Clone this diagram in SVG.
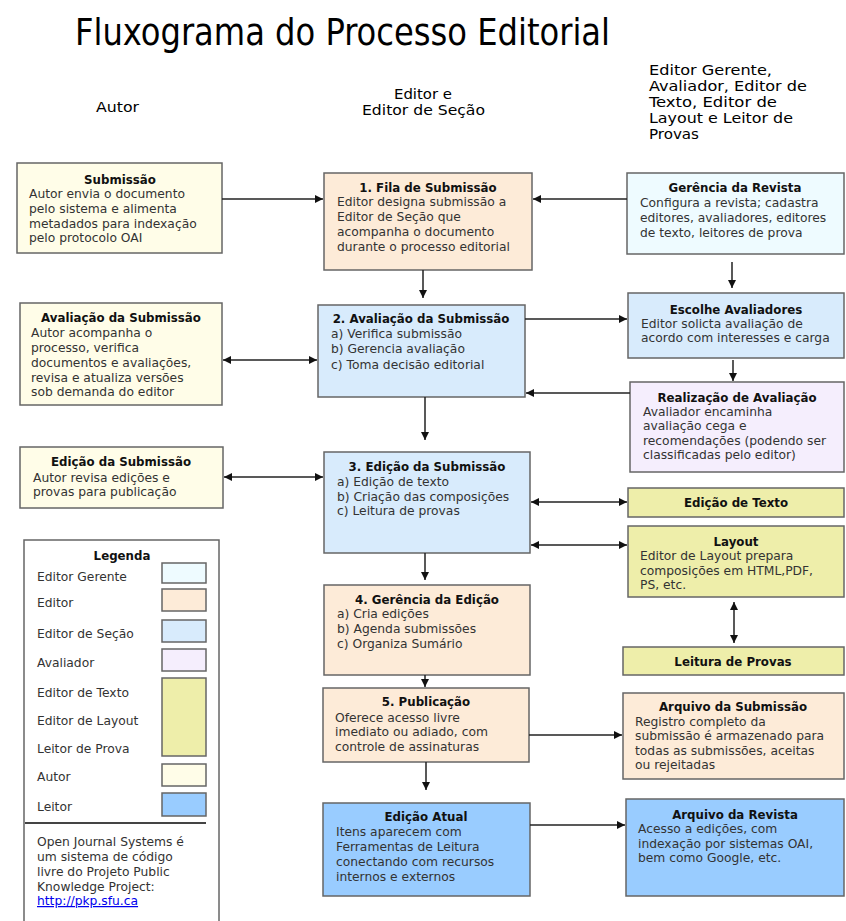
<svg xmlns="http://www.w3.org/2000/svg" width="846" height="921" viewBox="0 0 846 921">
<defs>
<style>
.box{stroke:#666;stroke-width:1.5}
.au{fill:#fffde8}
.ed{fill:#fdebd8}
.se{fill:#d8ebfc}
.mg{fill:#eefbff}
.av{fill:#f5eefd}
.ce{fill:#eeeeaa}
.le{fill:#99ccff}
.wh{fill:#ffffff}
.t{font-family:"DejaVu Sans","Liberation Sans",sans-serif;font-size:12.3px;fill:#333}
.b{font-family:"DejaVu Sans","Liberation Sans",sans-serif;font-size:11.8px;font-weight:bold;fill:#111;text-anchor:middle}
.h{font-family:"DejaVu Sans Condensed","Liberation Sans",sans-serif;fill:#000}
.lk{fill:#0000ee;text-decoration:underline}
.c line{stroke:#222;stroke-width:1.5;fill:none}
.a1{marker-end:url(#ah)}
.a2{marker-end:url(#ah);marker-start:url(#ah)}
</style>
<marker id="ah" viewBox="0 0 10 10" refX="10" refY="5" markerWidth="9" markerHeight="8" markerUnits="userSpaceOnUse" orient="auto-start-reverse">
<path d="M0,0 L10,5 L0,10 z" fill="#111"/>
</marker>
</defs>
<rect width="846" height="921" fill="#fff"/>

<g id="headers">
<text class="h" x="75" y="45" font-size="38" textLength="535" lengthAdjust="spacingAndGlyphs">Fluxograma do Processo Editorial</text>
<text class="h" x="96" y="112" font-size="14" textLength="43" lengthAdjust="spacingAndGlyphs">Autor</text>
<text class="h" x="394" y="99" font-size="13.5" textLength="58" lengthAdjust="spacingAndGlyphs">Editor e</text>
<text class="h" x="362" y="115" font-size="13.5" textLength="123" lengthAdjust="spacingAndGlyphs">Editor de Seção</text>
<text class="h" x="649" y="75" font-size="13.5" textLength="123" lengthAdjust="spacingAndGlyphs">Editor Gerente,</text>
<text class="h" x="649" y="91" font-size="13.5" textLength="158" lengthAdjust="spacingAndGlyphs">Avaliador, Editor de</text>
<text class="h" x="649" y="107" font-size="13.5" textLength="128" lengthAdjust="spacingAndGlyphs">Texto, Editor de</text>
<text class="h" x="649" y="123" font-size="13.5" textLength="144" lengthAdjust="spacingAndGlyphs">Layout e Leitor de</text>
<text class="h" x="649" y="139" font-size="13.5" textLength="50" lengthAdjust="spacingAndGlyphs">Provas</text>
</g>

<g id="submissao">
<rect class="box au" x="17" y="163" width="205" height="90"/>
<text class="b" x="120" y="184">Submissão</text>
<text class="t" x="29" y="198">Autor envia o documento</text>
<text class="t" x="29" y="213">pelo sistema e alimenta</text>
<text class="t" x="29" y="228">metadados para indexação</text>
<text class="t" x="29" y="242">pelo protocolo OAI</text>
</g>

<g id="avaliacao-autor">
<rect class="box au" x="20" y="303" width="202" height="102"/>
<text class="b" x="121" y="322">Avaliação da Submissão</text>
<text class="t" x="31" y="337">Autor acompanha o</text>
<text class="t" x="31" y="352">processo, verifica</text>
<text class="t" x="31" y="367">documentos e avaliações,</text>
<text class="t" x="31" y="382">revisa e atualiza versões</text>
<text class="t" x="31" y="396">sob demanda do editor</text>
</g>

<g id="edicao-autor">
<rect class="box au" x="20" y="447" width="203" height="61"/>
<text class="b" x="121" y="466">Edição da Submissão</text>
<text class="t" x="33" y="482">Autor revisa edições e</text>
<text class="t" x="33" y="496">provas para publicação</text>
</g>

<g id="legenda">
<rect class="box wh" x="24" y="540" width="195" height="390"/>
<text class="b" x="122" y="560">Legenda</text>
<text class="t" x="37" y="581">Editor Gerente</text>
<rect class="box mg" x="162" y="563" width="44" height="20"/>
<text class="t" x="37" y="607">Editor</text>
<rect class="box ed" x="162" y="589" width="44" height="22"/>
<text class="t" x="37" y="638">Editor de Seção</text>
<rect class="box se" x="162" y="620" width="44" height="22"/>
<text class="t" x="37" y="667">Avaliador</text>
<rect class="box av" x="162" y="649" width="44" height="22"/>
<text class="t" x="37" y="697">Editor de Texto</text>
<text class="t" x="37" y="725">Editor de Layout</text>
<text class="t" x="37" y="753">Leitor de Prova</text>
<rect class="box ce" x="162" y="678" width="44" height="78"/>
<text class="t" x="37" y="781">Autor</text>
<rect class="box au" x="162" y="764" width="44" height="22"/>
<text class="t" x="37" y="811">Leitor</text>
<rect class="box le" x="162" y="793" width="44" height="23"/>
<line x1="25" y1="823" x2="206" y2="823" stroke="#444" stroke-width="2"/>
<text class="t" x="37" y="846">Open Journal Systems é</text>
<text class="t" x="37" y="861">um sistema de código</text>
<text class="t" x="37" y="876">livre do Projeto Public</text>
<text class="t" x="37" y="891">Knowledge Project:</text>
<text class="t lk" x="37" y="905">http://pkp.sfu.ca</text>
</g>

<g id="fila">
<rect class="box ed" x="324" y="173" width="208" height="97"/>
<text class="b" x="428" y="192">1. Fila de Submissão</text>
<text class="t" x="337" y="206">Editor designa submissão a</text>
<text class="t" x="337" y="221">Editor de Seção que</text>
<text class="t" x="337" y="236">acompanha o documento</text>
<text class="t" x="337" y="251">durante o processo editorial</text>
</g>

<g id="avaliacao">
<rect class="box se" x="318" y="305" width="207" height="92"/>
<text class="b" x="421" y="323">2. Avaliação da Submissão</text>
<text class="t" x="331" y="338">a) Verifica submissão</text>
<text class="t" x="331" y="353">b) Gerencia avaliação</text>
<text class="t" x="331" y="369">c) Toma decisão editorial</text>
</g>

<g id="edicao">
<rect class="box se" x="324" y="452" width="206" height="101"/>
<text class="b" x="427" y="471">3. Edição da Submissão</text>
<text class="t" x="337" y="486">a) Edição de texto</text>
<text class="t" x="337" y="501">b) Criação das composições</text>
<text class="t" x="337" y="515">c) Leitura de provas</text>
</g>

<g id="gerencia-edicao">
<rect class="box ed" x="324" y="585" width="206" height="90"/>
<text class="b" x="427" y="604">4. Gerência da Edição</text>
<text class="t" x="337" y="618">a) Cria edições</text>
<text class="t" x="337" y="633">b) Agenda submissões</text>
<text class="t" x="337" y="648">c) Organiza Sumário</text>
</g>

<g id="publicacao">
<rect class="box ed" x="323" y="688" width="206" height="74"/>
<text class="b" x="426" y="706">5. Publicação</text>
<text class="t" x="335" y="722">Oferece acesso livre</text>
<text class="t" x="335" y="736">imediato ou adiado, com</text>
<text class="t" x="335" y="751">controle de assinaturas</text>
</g>

<g id="edicao-atual">
<rect class="box le" x="323" y="803" width="207" height="93"/>
<text class="b" x="426" y="821">Edição Atual</text>
<text class="t" x="336" y="836">Itens aparecem com</text>
<text class="t" x="336" y="851">Ferramentas de Leitura</text>
<text class="t" x="336" y="866">conectando com recursos</text>
<text class="t" x="336" y="881">internos e externos</text>
</g>

<g id="gerencia-revista">
<rect class="box mg" x="627" y="173" width="217" height="81"/>
<text class="b" x="735" y="192">Gerência da Revista</text>
<text class="t" x="640" y="207">Configura a revista; cadastra</text>
<text class="t" x="640" y="222">editores, avaliadores, editores</text>
<text class="t" x="640" y="237">de texto, leitores de prova</text>
</g>

<g id="escolhe">
<rect class="box se" x="628" y="293" width="216" height="65"/>
<text class="b" x="736" y="314">Escolhe Avaliadores</text>
<text class="t" x="641" y="328">Editor solicta avaliação de</text>
<text class="t" x="641" y="342">acordo com interesses e carga</text>
</g>

<g id="realizacao">
<rect class="box av" x="630" y="382" width="214" height="90"/>
<text class="b" x="737" y="402">Realização de Avaliação</text>
<text class="t" x="643" y="416">Avaliador encaminha</text>
<text class="t" x="643" y="430">avaliação cega e</text>
<text class="t" x="643" y="445">recomendações (podendo ser</text>
<text class="t" x="643" y="459">classificadas pelo editor)</text>
</g>

<g id="edicao-texto">
<rect class="box ce" x="628" y="488" width="216" height="29"/>
<text class="b" x="736" y="507">Edição de Texto</text>
</g>

<g id="layout">
<rect class="box ce" x="628" y="526" width="216" height="71"/>
<text class="b" x="736" y="546">Layout</text>
<text class="t" x="640" y="560">Editor de Layout prepara</text>
<text class="t" x="640" y="575">composições em HTML,PDF,</text>
<text class="t" x="640" y="589">PS, etc.</text>
</g>

<g id="leitura">
<rect class="box ce" x="623" y="647" width="221" height="28"/>
<text class="b" x="733" y="666">Leitura de Provas</text>
</g>

<g id="arquivo-submissao">
<rect class="box ed" x="623" y="693" width="221" height="86"/>
<text class="b" x="733" y="711">Arquivo da Submissão</text>
<text class="t" x="635" y="726">Registro completo da</text>
<text class="t" x="635" y="740">submissão é armazenado para</text>
<text class="t" x="635" y="755">todas as submissões, aceitas</text>
<text class="t" x="635" y="769">ou rejeitadas</text>
</g>

<g id="arquivo-revista">
<rect class="box le" x="626" y="799" width="218" height="97"/>
<text class="b" x="735" y="819">Arquivo da Revista</text>
<text class="t" x="638" y="833">Acesso a edições, com</text>
<text class="t" x="638" y="848">indexação por sistemas OAI,</text>
<text class="t" x="638" y="862">bem como Google, etc.</text>
</g>

<g id="connectors" class="c">
<line class="a1" x1="222" y1="199" x2="323" y2="199"/>
<line class="a1" x1="627" y1="199" x2="533" y2="199"/>
<line class="a1" x1="423" y1="270" x2="423" y2="298"/>
<line class="a2" x1="223" y1="360" x2="317" y2="360"/>
<line class="a1" x1="525" y1="319" x2="627" y2="319"/>
<line class="a1" x1="732" y1="262" x2="732" y2="288"/>
<line class="a1" x1="733" y1="360" x2="733" y2="381"/>
<line class="a1" x1="630" y1="393" x2="526" y2="393"/>
<line class="a1" x1="425" y1="397" x2="425" y2="440"/>
<line class="a2" x1="224" y1="477" x2="323" y2="477"/>
<line class="a2" x1="531" y1="502" x2="627" y2="502"/>
<line class="a2" x1="531" y1="545" x2="627" y2="545"/>
<line class="a1" x1="425" y1="553" x2="425" y2="580"/>
<line class="a2" x1="734" y1="602" x2="734" y2="643"/>
<line class="a1" x1="425" y1="675" x2="425" y2="687"/>
<line class="a1" x1="529" y1="735" x2="622" y2="735"/>
<line class="a1" x1="426" y1="762" x2="426" y2="790"/>
<line class="a1" x1="530" y1="825" x2="625" y2="825"/>
</g>
</svg>
